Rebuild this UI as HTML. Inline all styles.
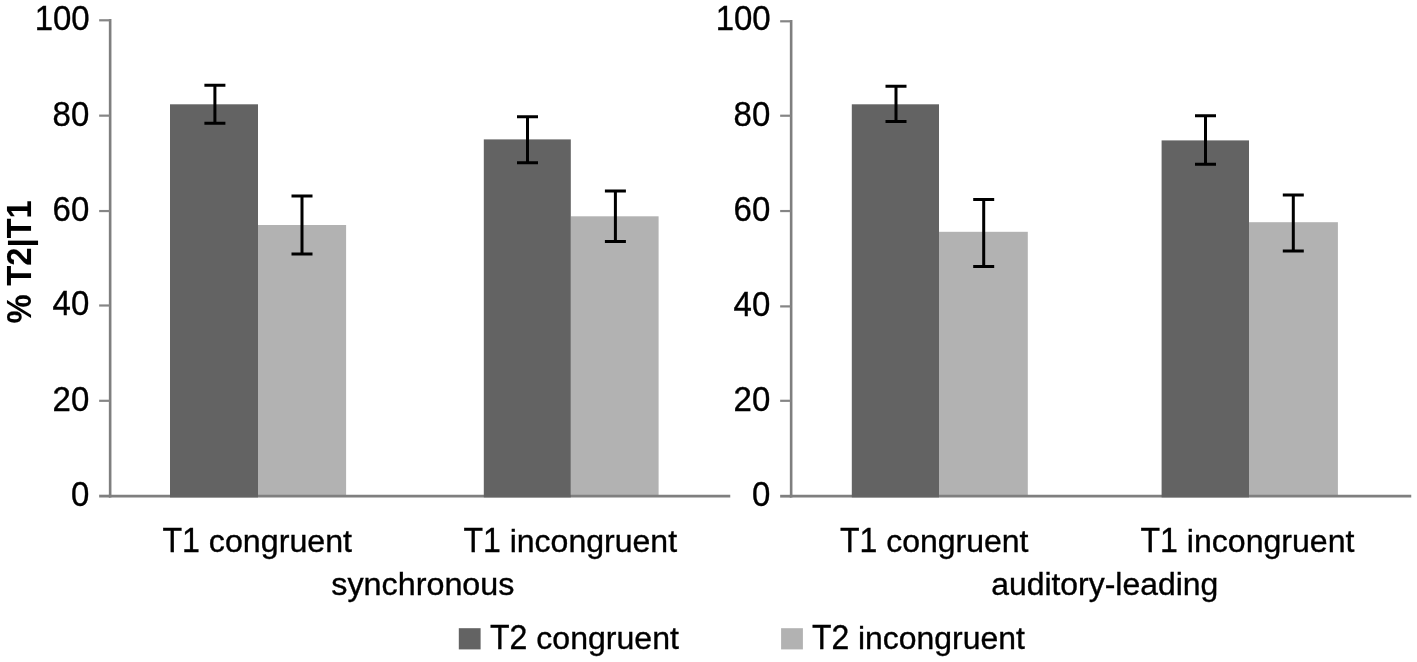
<!DOCTYPE html>
<html><head><meta charset="utf-8"><title>chart</title>
<style>
html,body{margin:0;padding:0;background:#fff;}
body{width:1417px;height:662px;overflow:hidden;}
svg{display:block;}
text{font-family:"Liberation Sans",Arial,sans-serif;font-size:35px;font-kerning:none;white-space:pre;fill:#000;stroke:#000;stroke-width:0.35px;}
.b{font-weight:bold;stroke-width:0.1px;}
</style></head><body>
<svg width="1417" height="662" viewBox="0 0 1417 662">
<rect width="1417" height="662" fill="#fff"/>

<rect x="258" y="225" width="88.1" height="271.1" fill="#b2b2b2"/>
<rect x="570.8" y="216.3" width="87.8" height="279.8" fill="#b2b2b2"/>
<rect x="939" y="231.8" width="88.8" height="264.3" fill="#b2b2b2"/>
<rect x="1249" y="222.2" width="88.9" height="273.9" fill="#b2b2b2"/>
<line x1="110.15" y1="19.10" x2="110.15" y2="497.40" stroke="#7f7f7f" stroke-width="2.6"/>
<line x1="108.85000000000001" y1="496.1" x2="730.25" y2="496.1" stroke="#7f7f7f" stroke-width="2.8000000000000003"/>
<line x1="99.15" y1="496.10" x2="110.15" y2="496.10" stroke="#7f7f7f" stroke-width="2.8000000000000003"/>
<text transform="translate(70.90,506.20) scale(0.942,1)">0</text>
<line x1="99.15" y1="400.80" x2="110.15" y2="400.80" stroke="#858585" stroke-width="2.2"/>
<text transform="translate(52.57,410.85) scale(0.942,1)">20</text>
<line x1="99.15" y1="305.50" x2="110.15" y2="305.50" stroke="#858585" stroke-width="2.2"/>
<text transform="translate(52.57,315.10) scale(0.942,1)">40</text>
<line x1="99.15" y1="211.05" x2="110.15" y2="211.05" stroke="#858585" stroke-width="2.2"/>
<text transform="translate(52.57,221.25) scale(0.942,1)">60</text>
<line x1="99.15" y1="115.65" x2="110.15" y2="115.65" stroke="#858585" stroke-width="2.2"/>
<text transform="translate(52.57,125.85) scale(0.942,1)">80</text>
<line x1="99.15" y1="20.30" x2="110.15" y2="20.30" stroke="#858585" stroke-width="2.2"/>
<text transform="translate(34.63,29.95) scale(0.942,1)">100</text>
<line x1="791.15" y1="20.10" x2="791.15" y2="497.50" stroke="#7f7f7f" stroke-width="2.6"/>
<line x1="789.85" y1="496.2" x2="1411.25" y2="496.2" stroke="#7f7f7f" stroke-width="2.8000000000000003"/>
<line x1="780.15" y1="496.20" x2="791.15" y2="496.20" stroke="#7f7f7f" stroke-width="2.8000000000000003"/>
<text transform="translate(751.90,506.20) scale(0.942,1)">0</text>
<line x1="780.15" y1="400.80" x2="791.15" y2="400.80" stroke="#858585" stroke-width="2.2"/>
<text transform="translate(733.57,410.85) scale(0.942,1)">20</text>
<line x1="780.15" y1="306.40" x2="791.15" y2="306.40" stroke="#858585" stroke-width="2.2"/>
<text transform="translate(733.57,316.10) scale(0.942,1)">40</text>
<line x1="780.15" y1="211.05" x2="791.15" y2="211.05" stroke="#858585" stroke-width="2.2"/>
<text transform="translate(733.57,221.25) scale(0.942,1)">60</text>
<line x1="780.15" y1="115.73" x2="791.15" y2="115.73" stroke="#858585" stroke-width="2.2"/>
<text transform="translate(733.57,125.85) scale(0.942,1)">80</text>
<line x1="780.15" y1="21.30" x2="791.15" y2="21.30" stroke="#858585" stroke-width="2.2"/>
<text transform="translate(715.63,30.45) scale(0.942,1)">100</text>
<rect x="170" y="104.3" width="88.0" height="393.1" fill="#636363"/>
<rect x="483.8" y="139.4" width="87.0" height="358.0" fill="#636363"/>
<rect x="851.8" y="104.3" width="87.2" height="393.1" fill="#636363"/>
<rect x="1161.6" y="140.4" width="87.4" height="357.0" fill="#636363"/>
<path d="M204.4 85.3H225.4M204.4 123.3H225.4M214.9 85.3V123.3" stroke="#000" stroke-width="3" fill="none"/>
<path d="M291.5 195.9H312.5M291.5 254.1H312.5M302 195.9V254.1" stroke="#000" stroke-width="3" fill="none"/>
<path d="M517.0 116.7H538.0M517.0 162.8H538.0M527.5 116.7V162.8" stroke="#000" stroke-width="3" fill="none"/>
<path d="M604.9 191.1H625.9M604.9 241.5H625.9M615.4 191.1V241.5" stroke="#000" stroke-width="3" fill="none"/>
<path d="M885.5 86.2H906.5M885.5 121.5H906.5M896 86.2V121.5" stroke="#000" stroke-width="3" fill="none"/>
<path d="M973.2 199.6H994.2M973.2 266.5H994.2M983.7 199.6V266.5" stroke="#000" stroke-width="3" fill="none"/>
<path d="M1195.0 115.8H1216.0M1195.0 164.2H1216.0M1205.5 115.8V164.2" stroke="#000" stroke-width="3" fill="none"/>
<path d="M1282.8 195H1303.8M1282.8 251.1H1303.8M1293.3 195V251.1" stroke="#000" stroke-width="3" fill="none"/>
<text xml:space="preserve" transform="translate(162.38,551.9)"><tspan font-size="34.5" textLength="37.56" lengthAdjust="spacingAndGlyphs">T1</tspan><tspan font-size="31" textLength="152.10" lengthAdjust="spacingAndGlyphs"> congruent</tspan></text>
<text xml:space="preserve" transform="translate(463.38,551.9)"><tspan font-size="34.5" textLength="37.38" lengthAdjust="spacingAndGlyphs">T1</tspan><tspan font-size="31" textLength="176.28" lengthAdjust="spacingAndGlyphs"> incongruent</tspan></text>
<text xml:space="preserve" transform="translate(839.98,551.9)"><tspan font-size="34.5" textLength="37.34" lengthAdjust="spacingAndGlyphs">T1</tspan><tspan font-size="31" textLength="151.21" lengthAdjust="spacingAndGlyphs"> congruent</tspan></text>
<text xml:space="preserve" transform="translate(1140.48,551.9)"><tspan font-size="34.5" textLength="37.43" lengthAdjust="spacingAndGlyphs">T1</tspan><tspan font-size="31" textLength="176.53" lengthAdjust="spacingAndGlyphs"> incongruent</tspan></text>
<text xml:space="preserve" transform="translate(331.30,594.7)"><tspan font-size="31" textLength="183.17" lengthAdjust="spacingAndGlyphs">synchronous</tspan></text>
<text xml:space="preserve" transform="translate(991.14,594.7)"><tspan font-size="31" textLength="227.11" lengthAdjust="spacingAndGlyphs">auditory-leading</tspan></text>
<text class="b" xml:space="preserve" transform="translate(31.0,323.61) rotate(-90)"><tspan font-size="34.5" textLength="29.00" lengthAdjust="spacingAndGlyphs">%</tspan><tspan font-size="31" textLength="9.06" lengthAdjust="spacingAndGlyphs"> </tspan><tspan font-size="34.5" textLength="38.06" lengthAdjust="spacingAndGlyphs">T2</tspan><tspan font-size="31" textLength="9.13" lengthAdjust="spacingAndGlyphs">|</tspan><tspan font-size="34.5" textLength="38.06" lengthAdjust="spacingAndGlyphs">T1</tspan></text>
<rect x="458.8" y="628.2" width="21.8" height="21.2" fill="#636363"/>
<text xml:space="preserve" transform="translate(489.98,648.6)"><tspan font-size="34.5" textLength="37.42" lengthAdjust="spacingAndGlyphs">T2</tspan><tspan font-size="31" textLength="151.53" lengthAdjust="spacingAndGlyphs"> congruent</tspan></text>
<rect x="781.1" y="628.2" width="21.8" height="21.2" fill="#b2b2b2"/>
<text xml:space="preserve" transform="translate(811.88,648.6)"><tspan font-size="34.5" textLength="37.25" lengthAdjust="spacingAndGlyphs">T2</tspan><tspan font-size="31" textLength="175.70" lengthAdjust="spacingAndGlyphs"> incongruent</tspan></text>
</svg></body></html>
